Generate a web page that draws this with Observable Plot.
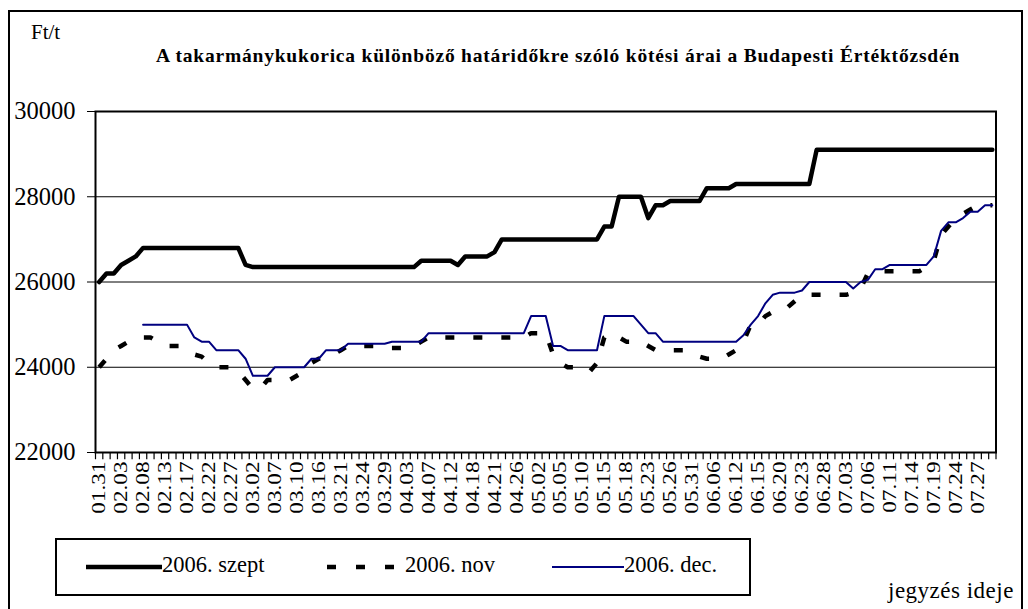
<!DOCTYPE html>
<html><head><meta charset="utf-8">
<script src="https://cdn.jsdelivr.net/npm/d3@7"></script>
<script src="https://cdn.jsdelivr.net/npm/@observablehq/plot@0.6"></script>
<style>
body{margin:0;background:#fff;}
#wrap{position:relative;width:1028px;height:609px;overflow:hidden;font-family:"Liberation Serif","Times New Roman",serif;color:#000;}
#border{position:absolute;left:8px;top:10px;width:1011px;height:640px;border:2px solid #000;}
#chart{position:absolute;left:0;top:0;}
#chart svg text{font-family:"Liberation Serif","Times New Roman",serif !important;}
#unit{position:absolute;left:31px;top:20px;font-size:21px;}
#title{position:absolute;left:0;width:1116px;text-align:center;top:45px;font-size:19.5px;letter-spacing:0.8px;font-weight:bold;white-space:nowrap;}
#legend{position:absolute;left:55px;top:538px;width:692px;height:54px;border:2px solid #000;}
.li{position:absolute;top:13px;font-size:22.5px;line-height:24px;white-space:nowrap;}
.li svg{vertical-align:middle;}
#xlab{position:absolute;left:888px;top:578px;font-size:23px;letter-spacing:0.5px;white-space:nowrap;}
</style></head>
<body>
<div id="wrap">
  <div id="border"></div>
  <div id="chart"></div>
  <div id="unit">Ft/t</div>
  <div id="title">A takarmánykukorica különböző határidőkre szóló kötési árai a Budapesti Értéktőzsdén</div>
  <div id="legend"></div>
  <div id="xlab">jegyzés ideje</div>
</div>
<script>
const dates = ["01.31","02.01","02.02","02.03","02.06","02.07","02.08","02.09","02.10","02.13",
"02.14","02.15","02.17","02.20","02.21","02.22","02.23","02.24","02.27","02.28",
"03.01","03.02","03.03","03.06","03.07","03.08","03.09","03.10","03.13","03.14",
"03.16","03.17","03.20","03.21","03.22","03.23","03.24","03.27","03.28","03.29",
"03.30","03.31","04.03","04.04","04.05","04.07","04.10","04.11","04.12","04.13",
"04.14","04.18","04.19","04.20","04.21","04.24","04.25","04.26","04.27","04.28",
"05.02","05.03","05.04","05.05","05.08","05.09","05.10","05.11","05.12","05.15",
"05.16","05.17","05.18","05.19","05.22","05.23","05.24","05.25","05.26","05.29",
"05.30","05.31","06.01","06.02","06.06","06.07","06.09","06.12","06.13","06.14",
"06.15","06.16","06.19","06.20","06.21","06.22","06.23","06.26","06.27","06.28",
"06.29","06.30","07.03","07.04","07.05","07.06","07.07","07.10","07.11","07.12",
"07.13","07.14","07.17","07.18","07.19","07.20","07.21","07.24","07.25","07.26",
"07.27","07.28","07.31"];

const szept = [26000,26200,26200,26400,26500,26600,
26800,26800,26800,26800,26800,26800,26800,26800,26800,26800,26800,26800,26800,26800,
26400,
26350,26350,26350,26350,26350,26350,26350,26350,26350,26350,26350,26350,26350,26350,26350,26350,26350,26350,26350,26350,26350,26350,26350,
26500,26500,26500,26500,26500,
26400,
26600,26600,26600,26600,
26700,
27000,27000,27000,27000,27000,27000,27000,27000,27000,27000,27000,27000,27000,27000,
27300,27300,
28000,28000,28000,28000,
27500,
27800,27800,
27900,27900,27900,27900,27900,
28200,28200,28200,28200,
28300,28300,28300,28300,28300,28300,28300,28300,28300,28300,28300,
29100,29100,29100,29100,29100,29100,29100,29100,29100,29100,29100,29100,29100,29100,29100,29100,29100,29100,29100,29100,29100,29100,29100,29100,29100];

const nov = [24000,24200,24400,24500,24600,24700,24700,24700,24600,24500,
24500,24500,24400,24300,24250,24100,24000,24000,24000,23900,
23700,23500,23500,23700,23700,23700,23700,23800,23900,24100,
24200,24250,24300,24400,24500,24500,24500,24500,24500,24450,
24450,24450,24450,24500,24600,24700,24700,24700,24700,24700,
24700,24700,24700,24700,24700,24700,24700,24700,24700,24800,
24800,24800,24300,24100,24000,24000,23900,23900,24100,24700,
24800,24700,24600,24600,24600,24500,24400,24400,24400,24400,
24400,24300,24250,24200,24200,24200,24300,24400,24600,25000,
25000,25200,25300,25300,25400,25550,25700,25700,25700,25700,
25700,25700,25700,25750,25850,26200,26250,26250,26250,26250,
26250,26250,26250,26350,26500,27100,27300,27500,27600,27700,
27800,27800,27800];

const dec = [null,null,null,null,null,null,25000,25000,25000,25000,
25000,25000,25000,24700,24600,24600,24400,24400,24400,24400,
24200,23800,23800,23800,24000,24000,24000,24000,24000,24200,
24200,24400,24400,24400,24550,24550,24550,24550,24550,24550,
24600,24600,24600,24600,24600,24800,24800,24800,24800,24800,
24800,24800,24800,24800,24800,24800,24800,24800,24800,25200,
25200,25200,24500,24500,24400,24400,24400,24400,24400,25200,
25200,25200,25200,25200,25000,24800,24800,24600,24600,24600,
24600,24600,24600,24600,24600,24600,24600,24600,24750,25000,
25200,25500,25700,25750,25750,25750,25800,26000,26000,26000,
26000,26000,26000,25850,26000,26050,26300,26300,26400,26400,
26400,26400,26400,26400,26600,27200,27400,27400,27500,27650,
27650,27800,27800];

const yTicks = [22000,24000,26000,28000,30000];
const gridLines = [24000,26000,28000];
const labelDates = dates.filter((d,i) => i % 3 === 0);

const seriesNames = ["2006. szept","2006. nov","2006. dec."];

const W = 1028, H = 530;
const mL = 95, mR = 32.5, mT = 111, mB = 78;
const step = (W - mL - mR) / dates.length;
const serif = "Liberation Serif";

const chart = Plot.plot({
  width: W, height: H,
  marginLeft: mL, marginRight: mR, marginTop: mT, marginBottom: mB,
  style: {fontFamily: serif, color: "#000", background: "transparent", overflow: "visible"},
  x: {type: "point", domain: dates, padding: 0.5},
  y: {domain: [22000, 30000]},
  marks: [
    Plot.ruleY(gridLines, {y: d => d, stroke: "#000", strokeWidth: 1}),
    Plot.frame({stroke: "#000", strokeWidth: 2}),
    Plot.ruleX(dates, {x: d => d, y1: 22000, y2: 21830, dx: -step/2, stroke: "#000", strokeWidth: 1.2}),
    Plot.ruleX([dates[dates.length-1]], {x: d => d, y1: 22000, y2: 21830, dx: step/2, stroke: "#000", strokeWidth: 1.2}),
    Plot.axisX({ticks: labelDates, tickSize: 0, tickRotate: -90, tickPadding: 9, fontSize: 19, fontFamily: serif, label: null}),
    Plot.axisY({ticks: yTicks, tickSize: 8, tickPadding: 12, tickFormat: d => String(d), fontSize: 24.5, fontFamily: serif, label: null}),
    Plot.line(nov, {x: (d,i) => dates[i], y: d => d, stroke: "#000", strokeWidth: 4.5, strokeDasharray: "9,19", strokeLinecap: "butt"}),
    Plot.line(szept, {x: (d,i) => dates[i], y: d => d, stroke: "#000", strokeWidth: 4.5, strokeLinejoin: "round"}),
    Plot.line(dec, {x: (d,i) => dates[i], y: d => d, stroke: "#000080", strokeWidth: 2})
  ]
});
// stretch the rotated date labels along their length to match the reference typesetting
chart.querySelectorAll('g[aria-label="x-axis tick label"] text').forEach(t => {
  const tr = t.getAttribute("transform") || "";
  t.setAttribute("transform", tr + " scale(1.22,1)");
});
document.getElementById("chart").appendChild(chart);

const leg = document.getElementById("legend");
const legendItems = [
  {name: seriesNames[0], left: 29, w: 76, stroke: "#000", sw: 4.5, dash: null},
  {name: seriesNames[1], left: 270, w: 78, stroke: "#000", sw: 4.5, dash: "9,20"},
  {name: seriesNames[2], left: 495, w: 72, stroke: "#000080", sw: 2, dash: null}
];
for (const it of legendItems) {
  const div = document.createElement("div");
  div.className = "li";
  div.style.left = it.left + "px";
  div.innerHTML = `<svg width="${it.w}" height="10"><line x1="0" x2="${it.w}" y1="5" y2="5" stroke="${it.stroke}" stroke-width="${it.sw}" ${it.dash ? `stroke-dasharray="${it.dash}"` : ""}/></svg>${it.name}`;
  leg.appendChild(div);
}
</script>
</body></html>
